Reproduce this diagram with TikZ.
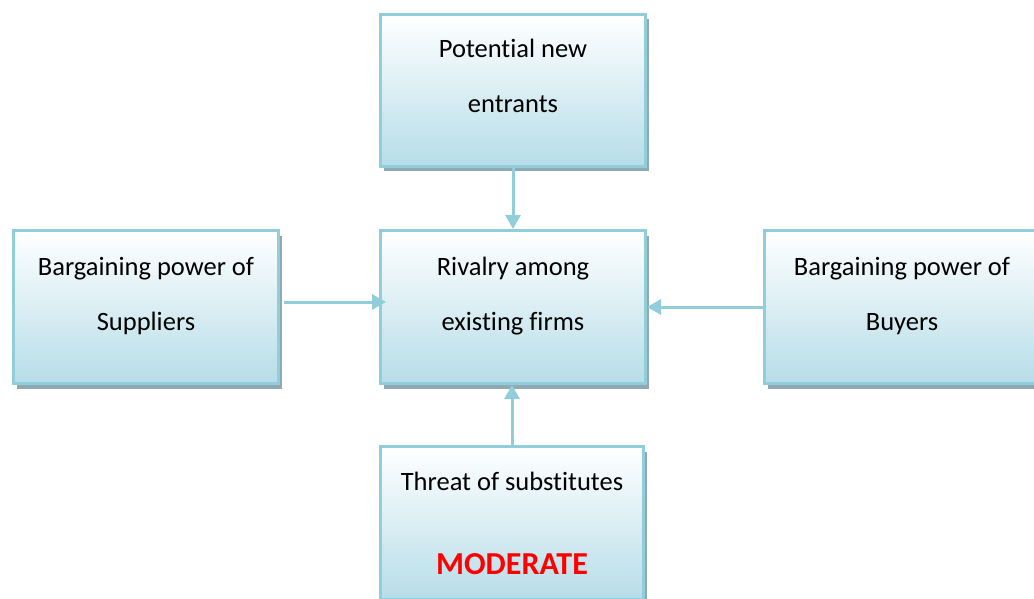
\documentclass[tikz,border=0pt]{standalone}
\usepackage{fontspec}
\setmainfont{Carlito}[RawFeature=-liga]
\usetikzlibrary{shadows,arrows.meta}
\definecolor{boxline}{RGB}{146,205,220}
\definecolor{boxfill}{RGB}{182,221,232}
\definecolor{boxshadow}{RGB}{143,169,179}
\definecolor{hot}{RGB}{255,0,0}
\tikzset{
  force/.style={rectangle, draw=boxline, line width=3pt,
    top color=white, bottom color=boxfill,
    general shadow={fill=boxshadow, shadow xshift=3.5pt, shadow yshift=-5pt}},
  lbl/.style={anchor=base, inner sep=0pt, font=\fontsize{26.5}{30}\selectfont},
  flow/.style={draw=boxline, line width=3pt,
    -{Triangle[width=15pt,length=14pt]}}
}
\begin{document}
\begin{tikzpicture}[x=1pt,y=-1pt]
\useasboundingbox (0,0) rectangle (1034,599);
\clip (0,0) rectangle (1034,599);

% the five forces
\node[force, minimum width=265pt, minimum height=152pt] (ent) at (513,90.5) {};
\node[force, minimum width=265pt, minimum height=153pt] (sup) at (146,307) {};
\node[force, minimum width=265pt, minimum height=153pt] (riv) at (513,307) {};
\node[force, minimum width=271pt, minimum height=153pt] (buy) at (900,307) {};
\node[force, minimum width=263pt, minimum height=153pt] (sub) at (512,523) {};

% labels
\node[lbl] (ent1) at ([yshift=-45pt]ent.north) {Potential new};
\node[lbl] (ent2) at ([yshift=-100pt]ent.north) {entrants};
\node[lbl] (sup1) at ([yshift=-46pt]sup.north) {Bargaining power of};
\node[lbl] (sup2) at ([yshift=-101pt]sup.north) {Suppliers};
\node[lbl] (riv1) at ([yshift=-46pt]riv.north) {Rivalry among};
\node[lbl] (riv2) at ([yshift=-101pt]riv.north) {existing firms};
\node[lbl] (buy1) at ([xshift=2pt,yshift=-46pt]buy.north) {Bargaining power of};
\node[lbl] (buy2) at ([xshift=2pt,yshift=-101pt]buy.north) {Buyers};
\node[lbl] (sub1) at ([yshift=-45pt]sub.north) {Threat of substitutes};
\node[lbl, text=hot, font=\fontsize{32}{36}\selectfont\bfseries] (sub2)
  at ([yshift=-129pt]sub.north) {MODERATE};

% pressures on the rivalry box
\draw[flow] (ent.south) -- (riv.north);
\draw[flow, shorten <=4pt, shorten >=-7pt] ([yshift=5pt]sup.east) -- ([yshift=5pt]riv.west);
\draw[flow] (buy.west) -- (riv.east);
\draw[flow] (sub.north) -- (sub.north |- riv.south);
\end{tikzpicture}
\end{document}
